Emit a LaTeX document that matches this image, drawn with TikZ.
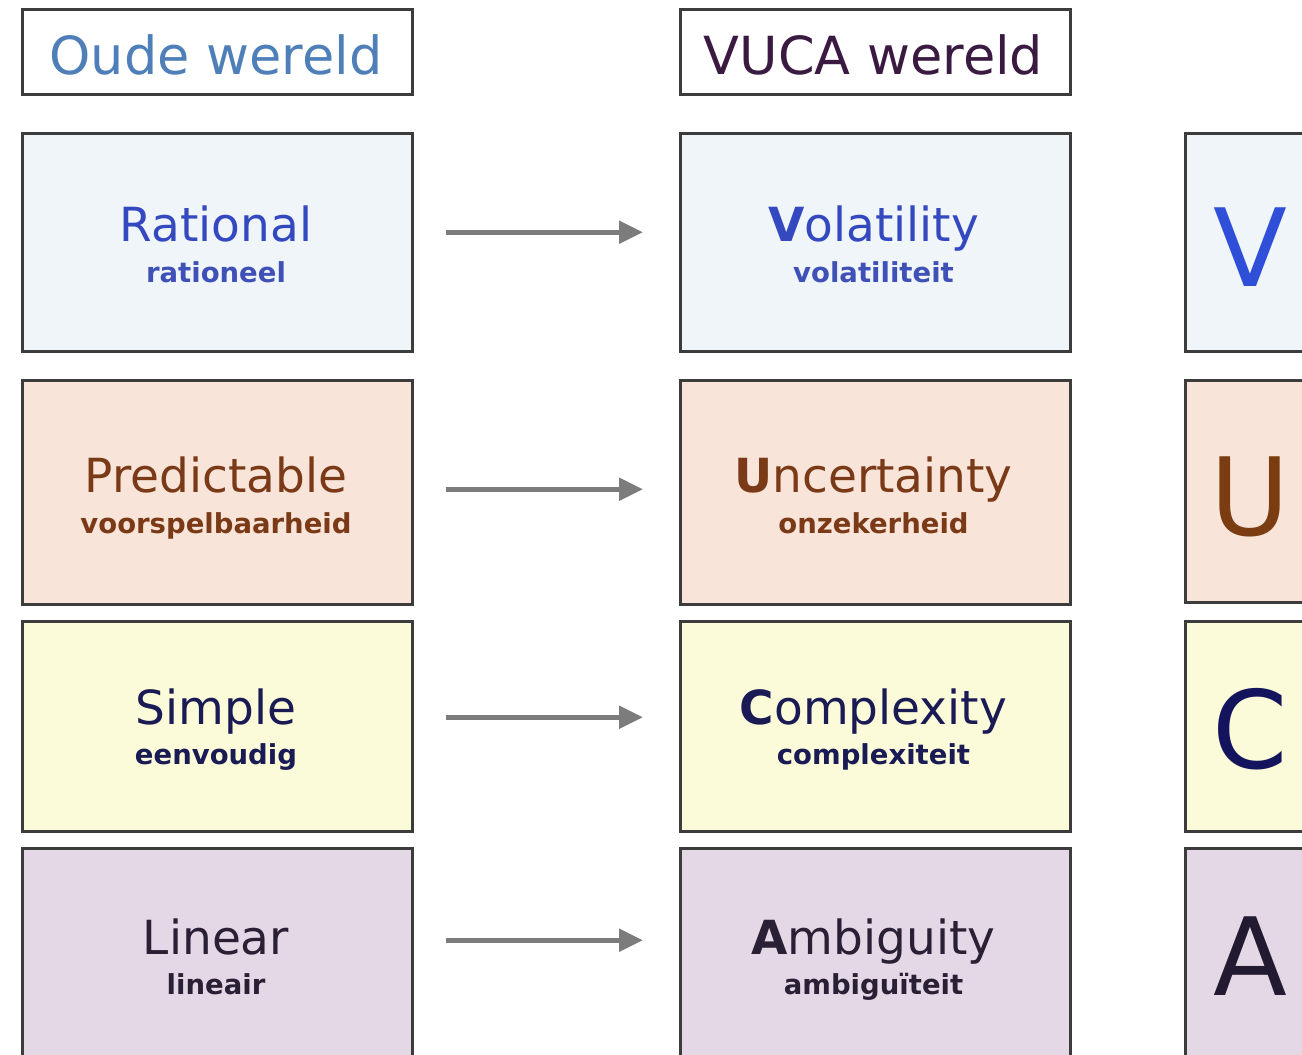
\documentclass[tikz,border=0pt]{standalone}
\usepackage{fontspec}
\setmainfont{DejaVu Sans}
\usetikzlibrary{arrows.meta}
\definecolor{bordc}{HTML}{3C3C3C}
\definecolor{fillA}{HTML}{EFF5F9}
\definecolor{fillB}{HTML}{F8E4D8}
\definecolor{fillC}{HTML}{FBFBDA}
\definecolor{fillD}{HTML}{E5D8E6}
\definecolor{txtA}{HTML}{3448C0}
\definecolor{txtB}{HTML}{7A3A18}
\definecolor{txtC}{HTML}{1A1A55}
\definecolor{txtD}{HTML}{2A2035}
\definecolor{bigA}{HTML}{2F4FD8}
\definecolor{bigB}{HTML}{7A3C10}
\definecolor{bigC}{HTML}{14145E}
\definecolor{bigD}{HTML}{221A30}
\definecolor{hdrL}{HTML}{4F7FB8}
\definecolor{hdrR}{HTML}{3A1A40}
\definecolor{arrc}{HTML}{7C7C7C}
\tikzset{
  box/.style={draw=bordc, line width=2.5pt, anchor=north west, inner sep=0pt},
  hdrbox/.style={box, fill=white, minimum width=390pt, minimum height=85pt},
  wbox/.style={box, minimum width=390pt},
  rbox/.style={box, minimum width=160pt},
  maintxt/.style={anchor=base, inner sep=0pt, font=\fontsize{47}{47}\selectfont},
  subtxt/.style={anchor=base, inner sep=0pt, font=\fontsize{27.5}{27.5}\selectfont\bfseries},
  bigtxt/.style={anchor=base, inner sep=0pt, font=\fontsize{108}{108}\selectfont},
  hdrtxt/.style={anchor=base, inner sep=0pt, font=\fontsize{52.5}{52.5}\selectfont},
  arr/.style={draw=arrc, line width=5.5pt, -{Triangle[length=24pt,width=22pt]}, shorten <=32pt, shorten >=36pt}
}
\begin{document}
\begin{tikzpicture}[x=1pt,y=-1pt]
\useasboundingbox (0,0) rectangle (1302,1055);
\clip (0,0) rectangle (1302,1055);
\fill[white] (0,0) rectangle (1302,1055);
% headers
\node[hdrbox] (hl) at (21,8) {};
\node[hdrbox] (hr) at (679,8) {};
\node[hdrtxt, text=hdrL] (hlt) at (216,74) {Oude wereld};
\node[hdrtxt, text=hdrR] (hrt) at (873.5,74) {VUCA wereld};
% rows: left boxes
\node[wbox, fill=fillA, minimum height=218pt] (l1) at (21,132) {};
\node[wbox, fill=fillB, minimum height=224pt] (l2) at (21,379) {};
\node[wbox, fill=fillC, minimum height=210pt] (l3) at (21,620) {};
\node[wbox, fill=fillD, minimum height=230pt] (l4) at (21,847) {};
% middle boxes
\node[wbox, fill=fillA, minimum height=218pt] (m1) at (679,132) {};
\node[wbox, fill=fillB, minimum height=224pt] (m2) at (679,379) {};
\node[wbox, fill=fillC, minimum height=210pt] (m3) at (679,620) {};
\node[wbox, fill=fillD, minimum height=230pt] (m4) at (679,847) {};
% right boxes
\node[rbox, fill=fillA, minimum height=218pt] (r1) at (1184,132) {};
\node[rbox, fill=fillB, minimum height=222pt] (r2) at (1184,379) {};
\node[rbox, fill=fillC, minimum height=210pt] (r3) at (1184,620) {};
\node[rbox, fill=fillD, minimum height=230pt] (r4) at (1184,847) {};
% left texts
\node[maintxt, text=txtA] (l1a) at (216,241) {Rational};
\node[subtxt, text=txtA!85!gray] (l1b) at (216,282) {rationeel};
\node[maintxt, text=txtB] (l2a) at (216,492) {Predictable};
\node[subtxt, text=txtB] (l2b) at (216,533) {voorspelbaarheid};
\node[maintxt, text=txtC] (l3a) at (216,724) {Simple};
\node[subtxt, text=txtC] (l3b) at (216,764) {eenvoudig};
\node[maintxt, text=txtD] (l4a) at (216,954) {Linear};
\node[subtxt, text=txtD] (l4b) at (216,994) {lineair};
% middle texts
\node[maintxt, text=txtA] (m1a) at (873.5,241) {\textbf{V}olatility};
\node[subtxt, text=txtA!85!gray] (m1b) at (873.5,282) {volatiliteit};
\node[maintxt, text=txtB] (m2a) at (873.5,492) {\textbf{U}ncertainty};
\node[subtxt, text=txtB] (m2b) at (873.5,533) {onzekerheid};
\node[maintxt, text=txtC] (m3a) at (873.5,724) {\textbf{C}omplexity};
\node[subtxt, text=txtC] (m3b) at (873.5,764) {complexiteit};
\node[maintxt, text=txtD] (m4a) at (873.5,954) {\textbf{A}mbiguity};
\node[subtxt, text=txtD] (m4b) at (873.5,994) {ambiguïteit};
% big letters
\node[bigtxt, text=bigA] (r1a) at (1250,286) {V};
\node[bigtxt, text=bigB] (r2a) at (1250,535) {U};
\node[bigtxt, text=bigC] (r3a) at (1250,768) {C};
\node[bigtxt, text=bigD] (r4a) at (1250,995) {A};
% arrows
\draw[arr] ([yshift=10pt]l1.east) -- ([yshift=10pt]m1.west);
\draw[arr] ([yshift=3pt]l2.east) -- ([yshift=3pt]m2.west);
\draw[arr] ([yshift=9pt]l3.east) -- ([yshift=9pt]m3.west);
\draw[arr] ([yshift=23pt]l4.east) -- ([yshift=23pt]m4.west);
\end{tikzpicture}
\end{document}
